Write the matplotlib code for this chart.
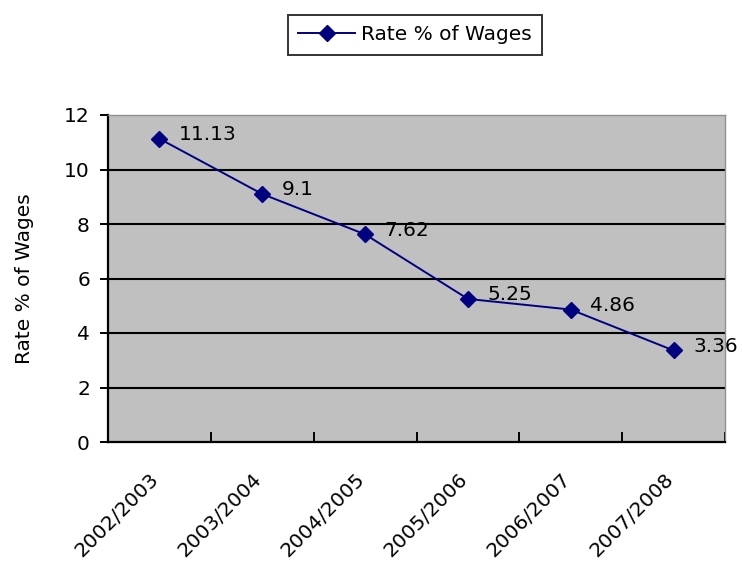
import numpy as np
import matplotlib.pyplot as plt
import matplotlib.transforms as mtransforms

years = ['2002/2003', '2003/2004', '2004/2005', '2005/2006', '2006/2007', '2007/2008']
rates = [11.13, 9.1, 7.62, 5.25, 4.86, 3.36]
rate_labels = ['11.13', '9.1', '7.62', '5.25', '4.86', '3.36']

plt.rcParams['font.family'] = ['DejaVu Sans']
fs = 14.5

fig = plt.figure(figsize=(7.42, 5.66), dpi=100)
ax = fig.add_axes([108/742, 1 - 442/566, (725-108)/742, (442-115)/566])
ax.set_facecolor('#c0c0c0')

x = np.arange(len(years))
line, = ax.plot(x, rates, color='#000080', marker='D', markersize=8.5, linewidth=1.4,
                label='Rate % of Wages', zorder=3)
for xi, yi, t in zip(x, rates, rate_labels):
    ax.annotate(t, (xi, yi), xytext=(14, 3), textcoords='offset points',
                fontsize=fs, va='center', ha='left')

ax.set_xlim(-0.5, len(years) - 0.5)
ax.set_ylim(0, 12)
ax.set_yticks(range(0, 13, 2))
for yv in range(2, 12, 2):
    ax.axhline(yv, color='black', linewidth=1.5, zorder=1)

ax.set_xticks(np.arange(-0.5, len(years), 1), minor=False)
ax.set_xticklabels([])
ax.set_xticks(x, minor=True)
ax.set_xticklabels(years, minor=True, rotation=45, ha='right', rotation_mode='anchor',
                   fontsize=fs)
ax.tick_params(axis='x', which='minor', length=0, pad=20)
ax.tick_params(axis='x', which='major', direction='in', length=7, width=1.4)
ax.tick_params(axis='y', direction='out', length=6, width=1.4, labelsize=fs, pad=7)

shift = mtransforms.ScaledTranslation(-10/100, 0, fig.dpi_scale_trans)
for lab in ax.get_xticklabels(minor=True):
    lab.set_transform(lab.get_transform() + shift)

for s in ['left', 'bottom']:
    ax.spines[s].set_linewidth(1.6)
    ax.spines[s].set_color('black')
for s in ['top', 'right']:
    ax.spines[s].set_linewidth(1)
    ax.spines[s].set_color('#909090')

ax.set_ylabel('Rate % of Wages', fontsize=fs, labelpad=22)

leg = fig.legend(handles=[line], loc='center', bbox_to_anchor=(415/742, 1 - 35/566),
                 frameon=True, fancybox=False, edgecolor='black', fontsize=fs,
                 handlelength=2.8, handletextpad=0.3, borderpad=0.5, borderaxespad=0)
leg.get_frame().set_linewidth(1.4)

fig.savefig('out.png', dpi=100)
